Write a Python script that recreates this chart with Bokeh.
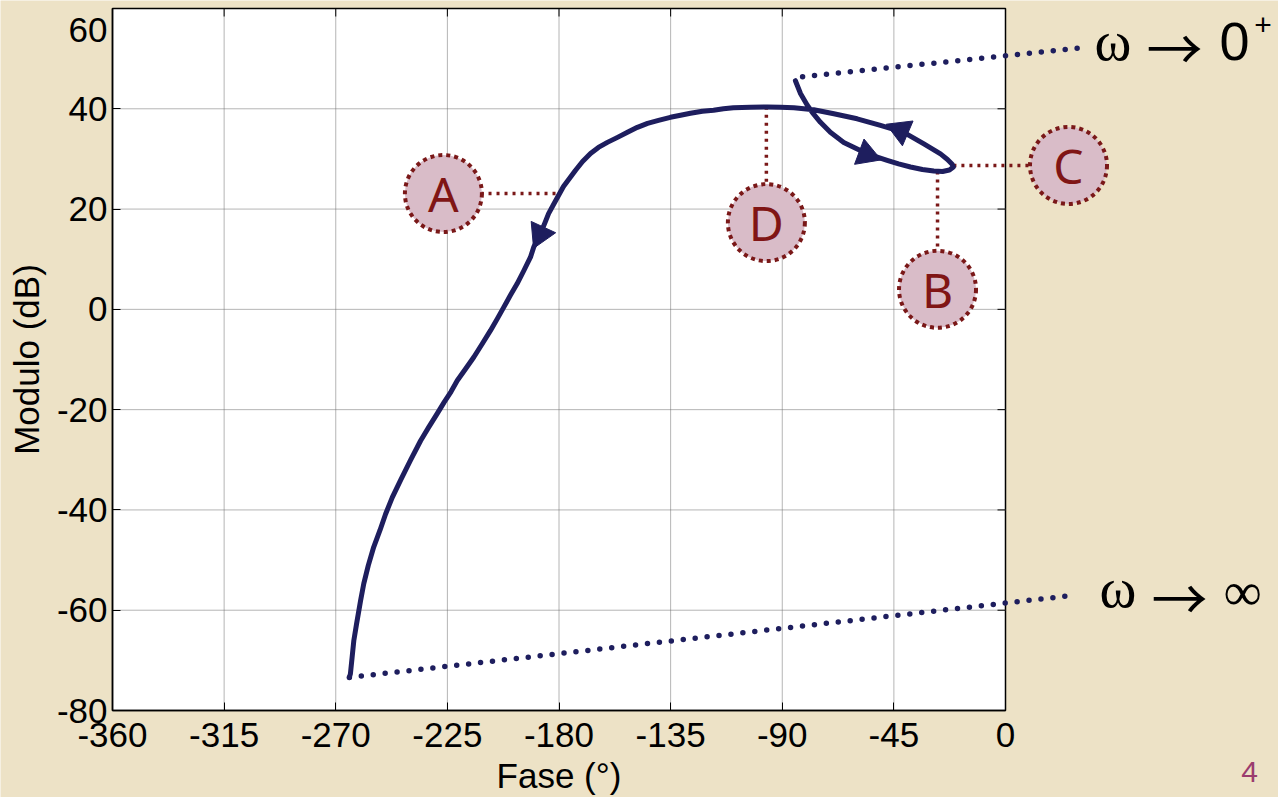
import numpy as np
from bokeh.plotting import figure
from bokeh.models import Range1d, FixedTicker, LinearAxis
from bokeh.core.properties import value
from bokeh.embed import file_html
from bokeh.resources import INLINE

# ---- data -------------------------------------------------------------
# Nichols trace of the open-loop response, from w -> 0+ to w -> inf
phase = [-84.7, -82.6, -79.9, -77.9, -74.6, -70.6, -65.2, -58.5, -53.2, -47.7,
         -43.1, -38.3, -33.5, -28.9, -25.4, -22.6, -21.0, -21.6, -23.4, -26.2,
         -32.9, -41.0, -50.4, -59.8, -69.2, -77.3, -85.3, -90.7, -96.0, -102.8,
         -109.7, -113.7, -117.7, -122.2, -127.0, -131.0, -135.1, -139.9, -144.3,
         -148.4, -152.4, -156.4, -160.5, -164.1, -167.3, -170.5, -173.4, -175.8,
         -178.2, -180.2, -182.2, -184.2, -185.8, -187.5, -190.2, -191.5, -194.2,
         -196.9, -199.6, -202.3, -204.9, -207.6, -211.0, -214.3, -217.7, -221.0,
         -223.5, -226.4, -229.1, -232.5, -235.8, -239.9, -243.9, -247.2, -249.9,
         -252.2, -254.7, -256.9, -258.7, -260.0, -261.6, -262.7, -263.4, -264.1,
         -264.5]
mag = [45.6, 43.0, 40.7, 39.3, 37.3, 35.3, 33.3, 31.7, 30.6, 29.7,
       29.0, 28.4, 27.9, 27.6, 27.5, 27.8, 28.4, 29.0, 29.9, 31.0,
       33.0, 35.3, 36.7, 38.0, 39.0, 39.8, 40.2, 40.3, 40.35, 40.3,
       40.2, 40.0, 39.7, 39.5, 39.1, 38.7, 38.3, 37.7, 37.1,
       36.3, 35.3, 34.3, 33.3, 32.3, 31.1, 29.5, 27.7, 26.1,
       24.5, 22.7, 20.9, 19.1, 17.1, 15.1, 12.4, 10.4, 7.7,
       5.1, 2.8, 0.4, -1.9, -4.2, -6.9, -9.5, -11.9, -14.2,
       -16.4, -18.6, -20.8, -23.5, -26.2, -30.1, -34.1, -37.5, -40.8,
       -44.1, -47.4, -51.1, -54.7, -58.1, -62.7, -66.0, -69.4, -72.7,
       -73.4]

# direction markers placed on the trace
arrow_phase = [-56.0, -42.3, -187.6]
arrow_mag = [30.9, 35.7, 15.0]

# dotted leaders to the limit labels
w0_phase = [-81.8, 31.8]
w0_mag = [46.4, 52.2]
winf_phase = [-264.5, 26.2]
winf_mag = [-73.4, -57.1]

# lettered callouts and the point of the trace each one refers to
callout_text = ["A", "D", "B", "C"]
callout_phase = [-226.6, -96.4, -27.4, 25.4]
callout_mag = [23.1, 17.3, 4.0, 28.7]
anchor_phase = [-181.4, -96.4, -27.4, -21.0]
anchor_mag = [23.1, 40.4, 27.5, 28.7]

x_ticks = [-360, -315, -270, -225, -180, -135, -90, -45, 0]
y_ticks = [-80, -60, -40, -20, 0, 20, 40, 60]

# ---- styling ----------------------------------------------------------
BG = "#ede2c6"
NAVY = "#1e1e5e"
MAROON = "#7a1818"
PINK = "#d9bcc8"
SANS = "Liberation Sans"
SERIF = "Liberation Serif"

W, H = 1278, 797
# pixel placement of the data box inside the canvas
BOX_L, BOX_R, BOX_T, BOX_B = 112, 1005, 8, 710
X0, X1 = -360.0, 0.0
Y0, Y1 = -80.0, 60.0
px_per_deg = (BOX_R - BOX_L) / (X1 - X0)
px_per_db = (BOX_B - BOX_T) / (Y1 - Y0)

x_range = Range1d(X0 - BOX_L / px_per_deg, X1 + (W - BOX_R) / px_per_deg)
y_range = Range1d(Y0 - (H - BOX_B) / px_per_db, Y1 + BOX_T / px_per_db)

p = figure(width=W, height=H, x_range=x_range, y_range=y_range,
           x_axis_type=None, y_axis_type=None, output_backend="svg",
           toolbar_location=None, min_border=0,
           background_fill_color=BG, border_fill_color=BG, outline_line_color=None)

# white plotting box
p.quad(left=[X0], right=[X1], bottom=[Y0], top=[Y1], fill_color="white",
       line_color="black", line_width=1.5)

# dotted grid inside the box
gx = x_ticks[1:-1]
gy = y_ticks[1:-1]
p.segment(x0=gx, x1=gx, y0=[Y0] * len(gx), y1=[Y1] * len(gx),
          line_color="#6a6a6a", line_width=1, line_dash="1 1")
p.segment(x0=[X0] * len(gy), x1=[X1] * len(gy), y0=gy, y1=gy,
          line_color="#6a6a6a", line_width=1, line_dash="1 1")

# inward ticks on the top and right edges
tick_len = 8
p.segment(x0=gx, x1=gx, y0=[Y1] * len(gx), y1=[Y1 - tick_len / px_per_db] * len(gx),
          line_color="black", line_width=1)
p.segment(x0=[X1] * len(gy), x1=[X1 - tick_len / px_per_deg] * len(gy), y0=gy, y1=gy,
          line_color="black", line_width=1)

# callout connectors
for ax, ay, cx, cy in zip(anchor_phase, anchor_mag, callout_phase, callout_mag):
    p.line([ax, cx], [ay, cy], line_color=MAROON, line_width=3.5, line_dash="3 5")

# dotted leaders
p.line(w0_phase, w0_mag, line_color=NAVY, line_width=5.5, line_dash="0 12",
       line_cap="round")
p.line(winf_phase, winf_mag, line_color=NAVY, line_width=5.5, line_dash="0 12",
       line_cap="round")

# the trace
p.line(phase, mag, line_color=NAVY, line_width=5, line_join="round", line_cap="round")

# direction arrowheads, oriented along the trace
ph = np.array(phase)
mg = np.array(mag)
angles = []
for a_ph, a_mg in zip(arrow_phase, arrow_mag):
    d = ((ph - a_ph) * px_per_deg) ** 2 + ((mg - a_mg) * px_per_db) ** 2
    i = int(np.argmin(d))
    dx = (ph[i + 1] - ph[i - 1]) * px_per_deg
    dy = (mg[i + 1] - mg[i - 1]) * px_per_db
    angles.append(np.arctan2(dy, dx) - np.pi / 2)
p.scatter(arrow_phase, arrow_mag, marker="triangle", size=27, angle=angles,
          fill_color=NAVY, line_color=NAVY, line_width=1)

# lettered callouts
p.scatter(callout_phase, callout_mag, marker="circle", size=77, fill_color=PINK,
          line_color=MAROON, line_width=4, line_dash="4 4")
p.text(callout_phase, callout_mag, text=callout_text, text_align="center",
       text_baseline="middle", text_color="#801515", text_font=value("Noto Sans"),
       text_font_size="48px")

# limit labels:  w -> 0+   and   w -> inf
p.text([35.9, 37.9], [53.5, -55.6], text=["\u03c9", "\u03c9"], text_font=value(SERIF),
       text_font_size="56px", text_color="black", text_baseline="middle")
p.text([56.8, 58.9], [52.6, -57.0], text=["\u2192", "\u2192"],
       text_font=value("Noto Sans CJK JP"), text_font_size="56px", text_color="black",
       text_baseline="middle")
p.text([86.3], [53.5], text=["0"], text_font=value(SANS),
       text_font_size="54px", text_color="black", text_baseline="middle")
p.text([103.8], [56.7], text=["+"], text_font=value(SANS), text_align="center",
       text_font_size="30px", text_color="black", text_baseline="middle")
p.text([87.9], [-56.3], text=["\u221e"], text_font=value(SERIF),
       text_font_size="54px", text_color="black", text_baseline="middle")

# top tick label, set just inside the canvas edge
p.text([X0 - 5 / px_per_deg], [55.7], text=["60"], text_align="right",
       text_baseline="middle", text_font=value(SANS), text_font_size="35px",
       text_color="black")

# slide number
p.text([98.4], [-92.2], text=["4"], text_align="center", text_baseline="middle",
       text_font=value(SANS), text_font_size="30px", text_color="#9b3c6e")

# axes, pinned to the edges of the data box
xaxis = LinearAxis(ticker=FixedTicker(ticks=x_ticks), bounds=(X0, X1),
                   fixed_location=Y0, axis_label="Fase (\u00b0)",
                   major_label_overrides={t: str(t) for t in x_ticks})
y_over = {t: str(t) for t in y_ticks}
y_over[60] = ""
yaxis = LinearAxis(ticker=FixedTicker(ticks=y_ticks), bounds=(Y0, Y1),
                   fixed_location=X0, axis_label="Modulo (dB)",
                   major_label_overrides=y_over)
for ax in (xaxis, yaxis):
    ax.axis_line_color = "black"
    ax.axis_line_width = 1.5
    ax.major_tick_in = tick_len
    ax.major_tick_out = 0
    ax.major_tick_line_color = "black"
    ax.minor_tick_line_color = None
    ax.major_label_text_font = SANS
    ax.major_label_text_font_size = "35px"
    ax.major_label_text_color = "black"
    ax.axis_label_text_font = SANS
    ax.axis_label_text_font_size = "35px"
    ax.axis_label_text_font_style = "normal"
    ax.axis_label_text_color = "black"
xaxis.major_label_standoff = 12
xaxis.axis_label_standoff = 6
yaxis.major_label_standoff = 5
yaxis.axis_label_standoff = 8
p.add_layout(xaxis, "below")
p.add_layout(yaxis, "left")

open("out.html", "w").write(file_html(p, INLINE))
